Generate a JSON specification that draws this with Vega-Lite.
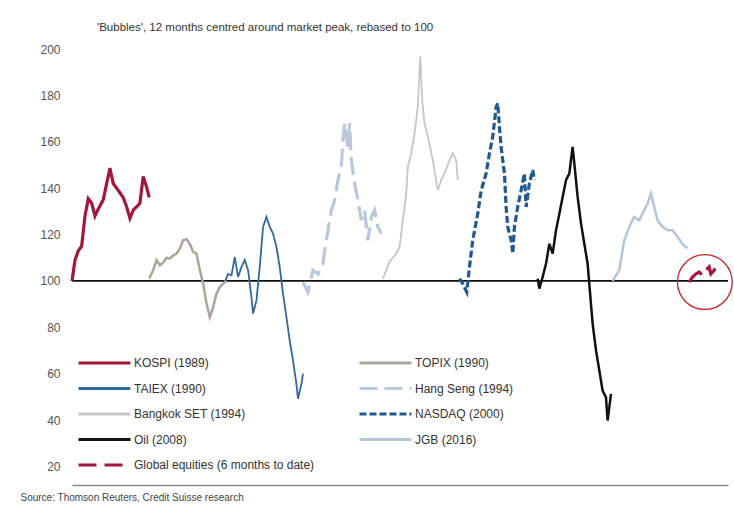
{
  "$schema": "https://vega.github.io/schema/vega-lite/v6.json",
  "width": 656,
  "height": 436,
  "autosize": "none",
  "padding": {"left": 72, "top": 49, "right": 6, "bottom": 24},
  "title": {"text": "'Bubbles', 12 months centred around market peak, rebased to 100", "anchor": "start", "frame": "group", "dx": 25, "offset": 1, "fontSize": 11.5, "fontWeight": "normal", "color": "#333", "baseline": "alphabetic"},
  "datasets": {
    "series": [
      {"s": "KOSPI (1989)", "m": 0, "v": 100}, {"s": "KOSPI (1989)", "m": 0.47, "v": 109}, {"s": "KOSPI (1989)", "m": 0.98, "v": 113}, {"s": "KOSPI (1989)", "m": 1.5, "v": 115}, {"s": "KOSPI (1989)", "m": 2.02, "v": 128}, {"s": "KOSPI (1989)", "m": 2.53, "v": 135.5}, {"s": "KOSPI (1989)", "m": 3.06, "v": 133.5}, {"s": "KOSPI (1989)", "m": 3.57, "v": 128}, {"s": "KOSPI (1989)", "m": 4.08, "v": 131}, {"s": "KOSPI (1989)", "m": 4.86, "v": 135}, {"s": "KOSPI (1989)", "m": 5.39, "v": 142}, {"s": "KOSPI (1989)", "m": 5.9, "v": 148.6}, {"s": "KOSPI (1989)", "m": 6.41, "v": 142}, {"s": "KOSPI (1989)", "m": 6.94, "v": 140}, {"s": "KOSPI (1989)", "m": 7.45, "v": 138}, {"s": "KOSPI (1989)", "m": 7.96, "v": 136}, {"s": "KOSPI (1989)", "m": 8.49, "v": 132}, {"s": "KOSPI (1989)", "m": 9.01, "v": 127}, {"s": "KOSPI (1989)", "m": 9.52, "v": 130.5}, {"s": "KOSPI (1989)", "m": 10.05, "v": 132}, {"s": "KOSPI (1989)", "m": 10.56, "v": 133.5}, {"s": "KOSPI (1989)", "m": 11.07, "v": 145}, {"s": "KOSPI (1989)", "m": 11.6, "v": 140.5}, {"s": "KOSPI (1989)", "m": 12.0, "v": 136},
      {"s": "TOPIX (1990)", "m": 12.0, "v": 101}, {"s": "TOPIX (1990)", "m": 12.62, "v": 104.6}, {"s": "TOPIX (1990)", "m": 13.15, "v": 109}, {"s": "TOPIX (1990)", "m": 13.66, "v": 106.7}, {"s": "TOPIX (1990)", "m": 14.18, "v": 108}, {"s": "TOPIX (1990)", "m": 14.71, "v": 110}, {"s": "TOPIX (1990)", "m": 15.22, "v": 109.6}, {"s": "TOPIX (1990)", "m": 15.73, "v": 111}, {"s": "TOPIX (1990)", "m": 16.26, "v": 111.8}, {"s": "TOPIX (1990)", "m": 16.77, "v": 114}, {"s": "TOPIX (1990)", "m": 17.28, "v": 117.5}, {"s": "TOPIX (1990)", "m": 17.81, "v": 118}, {"s": "TOPIX (1990)", "m": 18.32, "v": 116}, {"s": "TOPIX (1990)", "m": 18.84, "v": 112.5}, {"s": "TOPIX (1990)", "m": 19.36, "v": 111.8}, {"s": "TOPIX (1990)", "m": 19.88, "v": 104.6}, {"s": "TOPIX (1990)", "m": 20.39, "v": 98.8}, {"s": "TOPIX (1990)", "m": 20.92, "v": 90.2}, {"s": "TOPIX (1990)", "m": 21.43, "v": 84.4}, {"s": "TOPIX (1990)", "m": 21.94, "v": 88.7}, {"s": "TOPIX (1990)", "m": 22.47, "v": 94.5}, {"s": "TOPIX (1990)", "m": 22.98, "v": 97.4}, {"s": "TOPIX (1990)", "m": 23.49, "v": 98.8}, {"s": "TOPIX (1990)", "m": 24.02, "v": 100},
      {"s": "TAIEX (1990)", "m": 23.76, "v": 99.5}, {"s": "TAIEX (1990)", "m": 24.27, "v": 103}, {"s": "TAIEX (1990)", "m": 24.8, "v": 102.4}, {"s": "TAIEX (1990)", "m": 25.31, "v": 110.3}, {"s": "TAIEX (1990)", "m": 25.82, "v": 101.7}, {"s": "TAIEX (1990)", "m": 26.35, "v": 106}, {"s": "TAIEX (1990)", "m": 26.86, "v": 109}, {"s": "TAIEX (1990)", "m": 27.38, "v": 104.6}, {"s": "TAIEX (1990)", "m": 27.9, "v": 93}, {"s": "TAIEX (1990)", "m": 28.15, "v": 85.9}, {"s": "TAIEX (1990)", "m": 28.68, "v": 91.6}, {"s": "TAIEX (1990)", "m": 29.19, "v": 106}, {"s": "TAIEX (1990)", "m": 29.71, "v": 123.3}, {"s": "TAIEX (1990)", "m": 30.23, "v": 127.6}, {"s": "TAIEX (1990)", "m": 30.75, "v": 123.3}, {"s": "TAIEX (1990)", "m": 31.26, "v": 120.4}, {"s": "TAIEX (1990)", "m": 31.79, "v": 114.6}, {"s": "TAIEX (1990)", "m": 32.3, "v": 106}, {"s": "TAIEX (1990)", "m": 32.81, "v": 94.5}, {"s": "TAIEX (1990)", "m": 33.34, "v": 84.4}, {"s": "TAIEX (1990)", "m": 33.85, "v": 74.3}, {"s": "TAIEX (1990)", "m": 34.36, "v": 65.7}, {"s": "TAIEX (1990)", "m": 34.89, "v": 55.6}, {"s": "TAIEX (1990)", "m": 35.14, "v": 49.2}, {"s": "TAIEX (1990)", "m": 35.67, "v": 55.6}, {"s": "TAIEX (1990)", "m": 35.92, "v": 60},
      {"s": "Hang Seng (1994)", "m": 35.92, "v": 99.5}, {"s": "Hang Seng (1994)", "m": 36.69, "v": 95.2}, {"s": "Hang Seng (1994)", "m": 37.47, "v": 104.6}, {"s": "Hang Seng (1994)", "m": 38.25, "v": 103}, {"s": "Hang Seng (1994)", "m": 39.02, "v": 107.5}, {"s": "Hang Seng (1994)", "m": 39.29, "v": 113}, {"s": "Hang Seng (1994)", "m": 39.8, "v": 121.9}, {"s": "Hang Seng (1994)", "m": 40.33, "v": 130.5}, {"s": "Hang Seng (1994)", "m": 40.84, "v": 134.8}, {"s": "Hang Seng (1994)", "m": 41.35, "v": 143.5}, {"s": "Hang Seng (1994)", "m": 41.88, "v": 149.2}, {"s": "Hang Seng (1994)", "m": 42.13, "v": 160.7}, {"s": "Hang Seng (1994)", "m": 42.39, "v": 168}, {"s": "Hang Seng (1994)", "m": 42.9, "v": 157.8}, {"s": "Hang Seng (1994)", "m": 43.17, "v": 168}, {"s": "Hang Seng (1994)", "m": 43.43, "v": 152}, {"s": "Hang Seng (1994)", "m": 43.94, "v": 142}, {"s": "Hang Seng (1994)", "m": 44.46, "v": 134.8}, {"s": "Hang Seng (1994)", "m": 44.98, "v": 126.2}, {"s": "Hang Seng (1994)", "m": 45.5, "v": 130.5}, {"s": "Hang Seng (1994)", "m": 46.01, "v": 117.5}, {"s": "Hang Seng (1994)", "m": 46.54, "v": 127.6}, {"s": "Hang Seng (1994)", "m": 47.05, "v": 130.5}, {"s": "Hang Seng (1994)", "m": 47.56, "v": 123.3}, {"s": "Hang Seng (1994)", "m": 48.09, "v": 120.4},
      {"s": "Bangkok SET (1994)", "m": 48.34, "v": 101}, {"s": "Bangkok SET (1994)", "m": 49.38, "v": 108.2}, {"s": "Bangkok SET (1994)", "m": 50.42, "v": 111.8}, {"s": "Bangkok SET (1994)", "m": 50.93, "v": 114.6}, {"s": "Bangkok SET (1994)", "m": 51.44, "v": 126.2}, {"s": "Bangkok SET (1994)", "m": 51.97, "v": 137.7}, {"s": "Bangkok SET (1994)", "m": 52.22, "v": 149.2}, {"s": "Bangkok SET (1994)", "m": 52.75, "v": 155}, {"s": "Bangkok SET (1994)", "m": 53.26, "v": 163.6}, {"s": "Bangkok SET (1994)", "m": 53.77, "v": 175}, {"s": "Bangkok SET (1994)", "m": 54.15, "v": 196.7}, {"s": "Bangkok SET (1994)", "m": 54.46, "v": 178}, {"s": "Bangkok SET (1994)", "m": 54.81, "v": 168}, {"s": "Bangkok SET (1994)", "m": 55.33, "v": 162.2}, {"s": "Bangkok SET (1994)", "m": 56.1, "v": 152}, {"s": "Bangkok SET (1994)", "m": 56.88, "v": 139}, {"s": "Bangkok SET (1994)", "m": 57.41, "v": 143.5}, {"s": "Bangkok SET (1994)", "m": 57.92, "v": 146.3}, {"s": "Bangkok SET (1994)", "m": 58.7, "v": 152}, {"s": "Bangkok SET (1994)", "m": 59.21, "v": 155}, {"s": "Bangkok SET (1994)", "m": 59.74, "v": 152}, {"s": "Bangkok SET (1994)", "m": 59.98, "v": 143.5},
      {"s": "NASDAQ (2000)", "m": 60.25, "v": 101}, {"s": "NASDAQ (2000)", "m": 60.76, "v": 98.8}, {"s": "NASDAQ (2000)", "m": 61.38, "v": 95.2}, {"s": "NASDAQ (2000)", "m": 61.8, "v": 106}, {"s": "NASDAQ (2000)", "m": 62.31, "v": 117.5}, {"s": "NASDAQ (2000)", "m": 63.09, "v": 129}, {"s": "NASDAQ (2000)", "m": 63.62, "v": 139}, {"s": "NASDAQ (2000)", "m": 64.39, "v": 146.3}, {"s": "NASDAQ (2000)", "m": 64.91, "v": 155}, {"s": "NASDAQ (2000)", "m": 65.42, "v": 162.2}, {"s": "NASDAQ (2000)", "m": 65.95, "v": 175}, {"s": "NASDAQ (2000)", "m": 66.2, "v": 176.6}, {"s": "NASDAQ (2000)", "m": 66.46, "v": 166.5}, {"s": "NASDAQ (2000)", "m": 66.72, "v": 157.8}, {"s": "NASDAQ (2000)", "m": 67.24, "v": 146.3}, {"s": "NASDAQ (2000)", "m": 67.5, "v": 131.9}, {"s": "NASDAQ (2000)", "m": 67.75, "v": 123.3}, {"s": "NASDAQ (2000)", "m": 68.28, "v": 117.5}, {"s": "NASDAQ (2000)", "m": 68.53, "v": 111.8}, {"s": "NASDAQ (2000)", "m": 68.79, "v": 123.3}, {"s": "NASDAQ (2000)", "m": 69.3, "v": 131.9}, {"s": "NASDAQ (2000)", "m": 69.83, "v": 139}, {"s": "NASDAQ (2000)", "m": 70.34, "v": 146.3}, {"s": "NASDAQ (2000)", "m": 70.61, "v": 131.9}, {"s": "NASDAQ (2000)", "m": 71.12, "v": 142}, {"s": "NASDAQ (2000)", "m": 71.63, "v": 147.8}, {"s": "NASDAQ (2000)", "m": 71.89, "v": 143.5},
      {"s": "Oil (2008)", "m": 72.41, "v": 101}, {"s": "Oil (2008)", "m": 72.67, "v": 96.7}, {"s": "Oil (2008)", "m": 73.18, "v": 101.7}, {"s": "Oil (2008)", "m": 73.71, "v": 107.5}, {"s": "Oil (2008)", "m": 74.22, "v": 116}, {"s": "Oil (2008)", "m": 74.74, "v": 111.8}, {"s": "Oil (2008)", "m": 75.26, "v": 121.9}, {"s": "Oil (2008)", "m": 75.78, "v": 129}, {"s": "Oil (2008)", "m": 76.29, "v": 136.2}, {"s": "Oil (2008)", "m": 76.82, "v": 143.5}, {"s": "Oil (2008)", "m": 77.33, "v": 146.3}, {"s": "Oil (2008)", "m": 77.84, "v": 157.8}, {"s": "Oil (2008)", "m": 78.11, "v": 150.6}, {"s": "Oil (2008)", "m": 78.62, "v": 136.2}, {"s": "Oil (2008)", "m": 79.15, "v": 124.7}, {"s": "Oil (2008)", "m": 79.66, "v": 116}, {"s": "Oil (2008)", "m": 80.17, "v": 107.5}, {"s": "Oil (2008)", "m": 80.43, "v": 98.8}, {"s": "Oil (2008)", "m": 80.95, "v": 81.6}, {"s": "Oil (2008)", "m": 81.48, "v": 70}, {"s": "Oil (2008)", "m": 81.99, "v": 61.4}, {"s": "Oil (2008)", "m": 82.5, "v": 52.7}, {"s": "Oil (2008)", "m": 83.03, "v": 49.8}, {"s": "Oil (2008)", "m": 83.28, "v": 39.8}, {"s": "Oil (2008)", "m": 83.81, "v": 51.3},
      {"s": "JGB (2016)", "m": 84.05, "v": 100}, {"s": "JGB (2016)", "m": 85.09, "v": 104.6}, {"s": "JGB (2016)", "m": 85.87, "v": 117.5}, {"s": "JGB (2016)", "m": 86.65, "v": 123.3}, {"s": "JGB (2016)", "m": 87.42, "v": 127.6}, {"s": "JGB (2016)", "m": 88.2, "v": 126.2}, {"s": "JGB (2016)", "m": 88.98, "v": 130.5}, {"s": "JGB (2016)", "m": 89.49, "v": 133.4}, {"s": "JGB (2016)", "m": 90.02, "v": 137.7}, {"s": "JGB (2016)", "m": 90.53, "v": 131.9}, {"s": "JGB (2016)", "m": 91.04, "v": 126.2}, {"s": "JGB (2016)", "m": 91.82, "v": 123.3}, {"s": "JGB (2016)", "m": 92.59, "v": 121.9}, {"s": "JGB (2016)", "m": 93.37, "v": 121.9}, {"s": "JGB (2016)", "m": 94.15, "v": 119}, {"s": "JGB (2016)", "m": 94.92, "v": 116}, {"s": "JGB (2016)", "m": 95.7, "v": 114},
      {"s": "Global equities (6 months to date)", "m": 95.96, "v": 99.5}, {"s": "Global equities (6 months to date)", "m": 96.48, "v": 101.7}, {"s": "Global equities (6 months to date)", "m": 97.0, "v": 103}, {"s": "Global equities (6 months to date)", "m": 97.52, "v": 103.8}, {"s": "Global equities (6 months to date)", "m": 98.03, "v": 102.4}, {"s": "Global equities (6 months to date)", "m": 98.56, "v": 104.6}, {"s": "Global equities (6 months to date)", "m": 99.07, "v": 106}, {"s": "Global equities (6 months to date)", "m": 99.33, "v": 103}, {"s": "Global equities (6 months to date)", "m": 99.84, "v": 104.6}, {"s": "Global equities (6 months to date)", "m": 100.36, "v": 107.5}
    ],
    "baseline": [{"m": 0, "m2": 102, "v": 100}],
    "ring": [{"m": 98.4, "v": 99.5}]
  },
  "encoding": {
    "x": {"field": "m", "type": "quantitative", "scale": {"domain": [0, 102], "nice": false, "zero": false},
      "axis": {"title": "Source: Thomson Reuters, Credit Suisse research", "labels": false, "ticks": false, "grid": false, "domain": true, "domainColor": "#8a8a8a", "domainWidth": 1.3, "titleAnchor": "start", "titleAlign": "left", "titleX": -52, "titleY": 15, "titleBaseline": "alphabetic", "titleFontSize": 10, "titleFontWeight": "normal", "titleColor": "#444"}},
    "y": {"field": "v", "type": "quantitative", "scale": {"domain": [12, 200], "nice": false, "zero": false},
      "axis": {"title": null, "values": [20, 40, 60, 80, 100, 120, 140, 160, 180, 200], "ticks": false, "domain": false, "grid": false, "labelFontSize": 12, "labelColor": "#555", "labelPadding": 12}}
  },
  "layer": [
    {"data": {"name": "baseline"}, "mark": {"type": "rule", "color": "#111", "strokeWidth": 1.6}, "encoding": {"x2": {"field": "m2"}}},
    {"data": {"name": "series"}, "transform": [{"filter": {"field": "s", "oneOf": ["TAIEX (1990)", "Bangkok SET (1994)"]}}],
      "mark": {"type": "line", "strokeWidth": 1.8},
      "encoding": {
        "color": {"field": "s", "type": "nominal", "scale": {"domain": ["KOSPI (1989)", "TAIEX (1990)", "Bangkok SET (1994)", "Oil (2008)", "Global equities (6 months to date)", "TOPIX (1990)", "Hang Seng (1994)", "NASDAQ (2000)", "JGB (2016)"], "range": ["#a3173c", "#2f6a9c", "#c6c6c6", "#111111", "#a3173c", "#aaa49b", "#b9c8da", "#21588f", "#b3c6da"]},
          "legend": {"title": null, "orient": "none", "legendX": 5, "legendY": 307, "columns": 2, "symbolType": "stroke", "symbolSize": 2700, "symbolStrokeWidth": 3, "labelFontSize": 12, "labelColor": "#333", "labelOffset": 2, "clipHeight": 14, "rowPadding": 11.5, "columnPadding": 43, "labelLimit": 0}},
        "strokeDash": {"field": "s", "type": "nominal", "scale": {"domain": ["KOSPI (1989)", "TAIEX (1990)", "Bangkok SET (1994)", "Oil (2008)", "Global equities (6 months to date)", "TOPIX (1990)", "Hang Seng (1994)", "NASDAQ (2000)", "JGB (2016)"], "range": [[1, 0], [1, 0], [1, 0], [1, 0], [18, 8], [1, 0], [18, 7], [7, 3], [1, 0]]},
          "legend": {"title": null, "orient": "none", "legendX": 5, "legendY": 307, "columns": 2, "symbolType": "stroke", "symbolSize": 2700, "symbolStrokeWidth": 3, "labelFontSize": 12, "labelColor": "#333", "labelOffset": 2, "clipHeight": 14, "rowPadding": 11.5, "columnPadding": 43, "labelLimit": 0}}
      }},
    {"data": {"name": "series"}, "transform": [{"filter": {"field": "s", "oneOf": ["TOPIX (1990)", "Oil (2008)", "JGB (2016)"]}}],
      "mark": {"type": "line", "strokeWidth": 2.5},
      "encoding": {
        "color": {"field": "s", "type": "nominal"},
        "strokeDash": {"field": "s", "type": "nominal"}
      }},
    {"data": {"name": "series"}, "transform": [{"filter": {"field": "s", "oneOf": ["KOSPI (1989)", "Hang Seng (1994)", "NASDAQ (2000)", "Global equities (6 months to date)"]}}],
      "mark": {"type": "line", "strokeWidth": 3.2},
      "encoding": {
        "color": {"field": "s", "type": "nominal"},
        "strokeDash": {"field": "s", "type": "nominal"}
      }},
    {"data": {"name": "ring"}, "mark": {"type": "point", "shape": "circle", "size": 3000, "filled": false, "stroke": "#c8262c", "strokeWidth": 1.3, "opacity": 1}}
  ],
  "config": {"view": {"stroke": null}, "font": "Liberation Sans"}
}
